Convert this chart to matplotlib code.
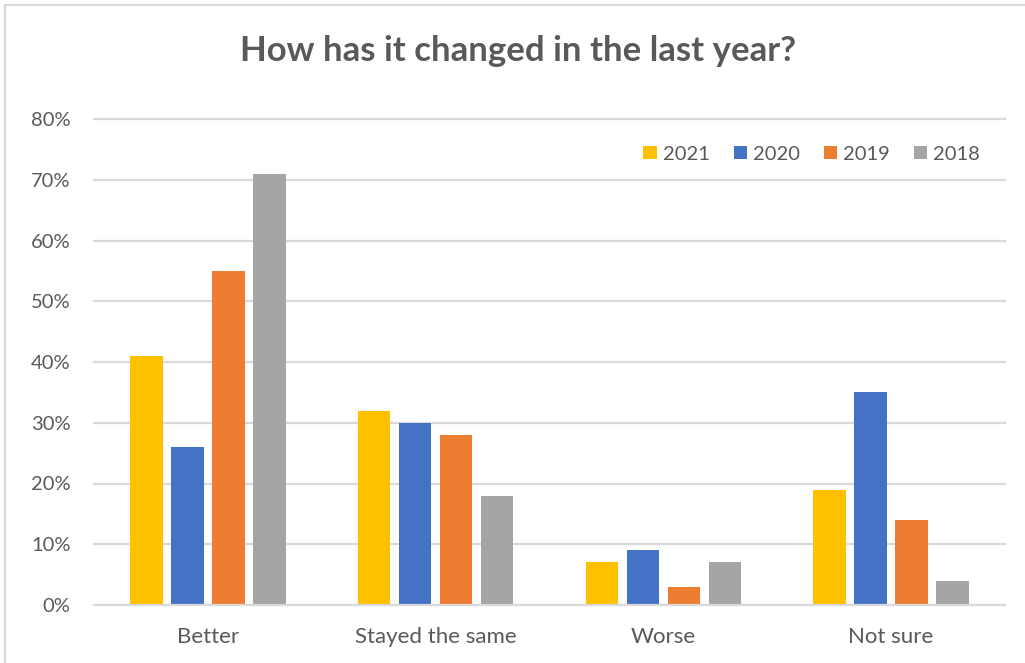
import matplotlib
matplotlib.use("Agg")
import matplotlib.pyplot as plt
from matplotlib.patches import Patch
from matplotlib.lines import Line2D
from matplotlib.ticker import PercentFormatter
import numpy as np

categories = ["Better", "Stayed the same", "Worse", "Not sure"]
years = ["2021", "2020", "2019", "2018"]
values_2021 = [0.41, 0.32, 0.07, 0.19]
values_2020 = [0.26, 0.30, 0.09, 0.35]
values_2019 = [0.55, 0.28, 0.03, 0.14]
values_2018 = [0.71, 0.18, 0.07, 0.04]
series = [values_2021, values_2020, values_2019, values_2018]
colors = ["#FFC000", "#4472C4", "#ED7D31", "#A5A5A5"]
yticks = [0, 0.1, 0.2, 0.3, 0.4, 0.5, 0.6, 0.7, 0.8]

TEXT = "#595959"
GRID = "#D9D9D9"
FONT = "Lato"

W, H = 1025, 663
fig = plt.figure(figsize=(W / 100, H / 100), dpi=100)
ax = fig.add_axes([94 / W, 1 - 605 / H, (1005 - 94) / W, (605 - 119) / H])

x = np.arange(len(categories))
slot = 0.18
width = 0.1425
for i, (vals, col) in enumerate(zip(series, colors)):
    ax.bar(x + (i - 1.5) * slot, vals, width=width, color=col, zorder=2)

ax.set_xlim(-0.5, len(categories) - 0.5)
ax.set_ylim(0, 0.8)
ax.set_yticks(yticks)
ax.yaxis.set_major_formatter(PercentFormatter(1.0, decimals=0))
ax.set_xticks(x)
ax.set_xticklabels(categories)

for s in ax.spines.values():
    s.set_visible(False)
ax.set_axisbelow(True)
ax.grid(axis="y", color=GRID, linewidth=1.6)
for gl in ax.get_ygridlines():
    gl.set_clip_on(False)
ax.axhline(0, color=GRID, linewidth=1.6, zorder=3)

ax.tick_params(axis="y", length=0, labelsize=14.5, colors=TEXT, pad=17)
ax.tick_params(axis="x", length=0, labelsize=16, colors=TEXT, pad=16)
for lab in ax.get_xticklabels() + ax.get_yticklabels():
    lab.set_fontfamily(FONT)
    lab.set_color(TEXT)

fig.text(518 / W, 1 - 51 / H, "How has it changed in the last year?",
         ha="center", va="center", fontsize=25, fontweight="bold",
         color=TEXT, family=FONT)

handles = [Patch(facecolor=c, edgecolor="none") for c in colors]
leg = ax.legend(handles, years, ncol=4, frameon=False,
                loc="center right", bbox_to_anchor=(980 / W, 1 - 154 / H),
                bbox_transform=fig.transFigure, borderpad=0, borderaxespad=0,
                handlelength=0.65, handleheight=0.65, handletextpad=0.3,
                columnspacing=1.2, prop={"family": FONT, "size": 14.5})
for t in leg.get_texts():
    t.set_color(TEXT)

# chart frame
fig.add_artist(Line2D([5 / W, 5 / W], [0, 1 - 5 / H], transform=fig.transFigure,
                      color=GRID, linewidth=1.5))
fig.add_artist(Line2D([5 / W, 1], [1 - 5 / H, 1 - 5 / H], transform=fig.transFigure,
                      color=GRID, linewidth=1.5))

fig.savefig("out.png", dpi=100, facecolor="white")
